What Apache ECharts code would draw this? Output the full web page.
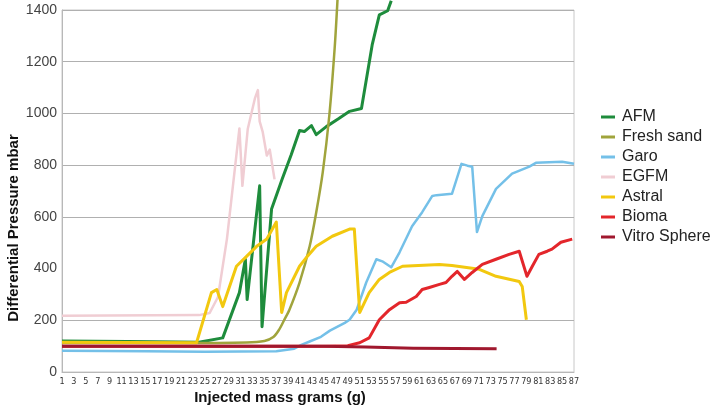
<!DOCTYPE html>
<html>
<head>
<meta charset="utf-8">
<script src="https://cdn.jsdelivr.net/npm/echarts@6/dist/echarts.min.js"></script>
<style>
  html, body { margin: 0; padding: 0; background: #ffffff; }
  #chart { width: 720px; height: 410px; }
</style>
</head>
<body>
<div id="chart"></div>
<script>
// Differential pressure (mbar) against injected mass (g), one [grams, mbar] list per media
const seriesNames = ['AFM', 'Fresh sand', 'Garo', 'EGFM', 'Astral', 'Bioma', 'Vitro Sphere'];

const afm = [[1,120],[12,118],[24,115],[28,132],[30.8,307],[31.8,436],[32.1,280],[34.2,720],[34.6,175],
  [36.2,630],[38,747],[39.5,840],[40.9,934],[41.7,930],[42.9,953],[43.7,918],[45.4,949],[47.5,980],
  [49.3,1008],[51.3,1019],[53.1,1265],[54.3,1381],[55.7,1397],[56.3,1436]];

const freshSand = [[1,112],[20,112],[32,114],[35,120],[36.5,135],[37.5,165],[38.3,200],[39.2,241],
  [40.9,346],[42.6,486],[43.7,617],[44.8,773],[45.9,992],[46.8,1253],[47.3,1450]];

const garo = [[1,82],[15,80],[25,78],[37,80],[40,90],[41.2,105],[42.5,117],[44.5,136],[46,160],
  [48.5,190],[49.3,202],[50.5,241],[52.1,346],[53.8,436],[54.8,428],[56.3,405],[57.7,463],[59.8,564],
  [61.5,618],[63.2,681],[63.9,684],[66.5,689],[68.1,805],[69.1,798],[69.9,794],[70.7,541],[71.6,603],
  [73.9,708],[76.6,767],[79.5,794],[80.6,809],[85,813],[87,805]];

const egfm = [[1,218],[24,220],[25.8,228],[27.2,290],[28.7,514],[30.8,942],[31.3,720],[32.2,940],
  [33.4,1058],[33.9,1090],[34.2,969],[34.7,930],[35.4,837],[35.9,860],[36.7,745]];

const astral = [[1,115],[23.6,113],[26.1,307],[27,319],[28,253],[30.3,409],[32,447],[33.7,486],
  [35.4,514],[37,580],[37.9,230],[38.7,307],[40.9,409],[42.2,447],[43.7,486],[46.4,525],[49.3,553],
  [50.1,553],[51,230],[52.6,307],[54.3,358],[56,385],[58.2,409],[64.4,416],[66.5,412],[71.1,397],
  [73.9,370],[77.8,350],[78.3,331],[79,202]];

const bioma = [[1,100],[30,100],[45,100],[49,102],[51,113],[52.6,132],[54.3,202],[56,241],[57.7,268],
  [58.8,270],[60.5,292],[61.5,319],[62.7,327],[64.4,339],[65.5,346],[66.5,370],[67.4,389],[68.6,358],
  [69.9,385],[71.6,416],[73.9,436],[76.1,455],[77.8,467],[79.1,370],[80,409],[81.1,455],[82.5,467],
  [83.3,475],[84.8,502],[86.7,514]];

const vitroSphere = [[1,100],[45,100],[52,97],[60,92],[74,90]];

const seriesData = [afm, freshSand, garo, egfm, astral, bioma, vitroSphere];
const seriesColors = ['#1e8c3c', '#a0a43c', '#74c0e8', '#f0cdd3', '#f2c80f', '#e3262b', '#a0182e'];
const seriesWidths = [3, 2.5, 2.5, 2.5, 3, 3, 3];

// y ticks every 200 mbar; the 400 line is left out of the grid
const yMin = 0, yMax = 1400, yStep = 200;
const gridColors = ['#b0b0b0', '#b0b0b0', 'rgba(0,0,0,0)', '#b0b0b0', '#b0b0b0', '#b0b0b0', '#b0b0b0', '#b0b0b0'];

const chart = echarts.init(document.getElementById('chart'), null, { renderer: 'canvas' });

chart.setOption({
  animation: false,
  backgroundColor: '#ffffff',
  textStyle: { fontFamily: 'Liberation Sans, Arial, sans-serif' },
  grid: {
    left: 62, right: 146, top: 10, bottom: 38,
    show: true, borderColor: '#c8c8c8', borderWidth: 1, backgroundColor: '#ffffff'
  },
  legend: {
    orient: 'vertical',
    left: 596, top: 104,
    itemGap: 4,
    itemWidth: 14, itemHeight: 3,
    icon: 'rect',
    data: seriesNames,
    textStyle: { fontSize: 16, color: '#222222', lineHeight: 16, padding: [0, 0, 0, 2] }
  },
  xAxis: {
    type: 'value',
    min: 1, max: 87, interval: 2,
    axisLine: { show: true, lineStyle: { color: '#b8b8b8' } },
    axisTick: { show: false },
    splitLine: { show: false },
    axisLabel: {
      fontSize: 9, color: '#333333', margin: 5,
      fontFamily: 'Liberation Sans Narrow, DejaVu Sans Condensed, Liberation Sans, sans-serif',
      showMinLabel: true, showMaxLabel: true, hideOverlap: false
    }
  },
  yAxis: {
    type: 'value',
    min: yMin, max: yMax, interval: yStep,
    axisLine: { show: true, lineStyle: { color: '#b8b8b8' } },
    axisTick: { show: false },
    splitLine: { show: true, lineStyle: { color: gridColors, width: 1 } },
    axisLabel: { fontSize: 14, color: '#444444', margin: 5, formatter: (v) => String(v) }
  },
  graphic: [
    {
      type: 'text',
      x: 280, y: 398,
      style: { text: 'Injected mass grams (g)', align: 'center', verticalAlign: 'middle',
        font: 'bold 15px Liberation Sans, Arial, sans-serif', fill: '#111111' }
    },
    {
      type: 'text',
      x: 14, y: 228, rotation: Math.PI / 2,
      style: { text: 'Differential Pressure mbar', align: 'center', verticalAlign: 'middle',
        font: 'bold 15px Liberation Sans, Arial, sans-serif', fill: '#111111' }
    }
  ],
  series: seriesNames.map((name, i) => ({
    name: name,
    type: 'line',
    data: seriesData[i],
    showSymbol: false,
    symbol: 'none',
    clip: false,
    smooth: name === 'Fresh sand' ? 0.3 : false,
    color: seriesColors[i],
    lineStyle: { color: seriesColors[i], width: seriesWidths[i], join: 'round' }
  }))
});
</script>
</body>
</html>
